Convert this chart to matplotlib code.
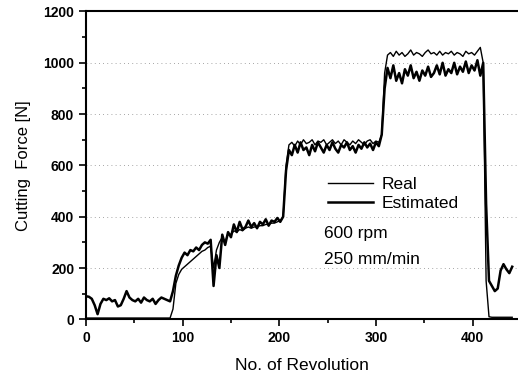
import numpy as np
import matplotlib
matplotlib.use("Agg")
import matplotlib.pyplot as plt
from matplotlib.ticker import MultipleLocator

plt.rcParams['font.family'] = ['Liberation Sans', 'DejaVu Sans']

# revolutions sampled every 3 rev
rev = np.arange(0, 442, 3)

# estimated force (thick, noisy line)
estimated = [90, 88, 80, 55, 20, 60, 80, 75, 82, 70,
             75, 50, 55, 80, 110, 85, 75, 70, 80, 65,
             85, 75, 70, 80, 60, 75, 85, 80, 75, 70,
             110, 170, 210, 240, 260, 250, 270, 265, 280, 270,
             290, 300, 295, 310, 130, 250, 200, 330, 290, 340,
             320, 370, 340, 380, 350, 360, 385, 360, 375, 355,
             380, 370, 390, 365, 385, 380, 395, 380, 400, 580,
             660, 640, 680, 650, 690, 660, 670, 640, 680, 655,
             690, 670, 650, 680, 660, 690, 665, 650, 680, 670,
             690, 660, 675, 650, 680, 665, 690, 670, 685, 660,
             690, 675, 720, 900, 980, 940, 990, 930, 960, 920,
             975, 950, 990, 940, 965, 930, 970, 950, 985, 945,
             960, 990, 955, 1000, 950, 975, 960, 1000, 955, 985,
             965, 1005, 960, 990, 970, 1010, 950, 1000, 450, 150,
             130, 110, 120, 190, 215, 195, 180, 205]

# real force (thin line)
real = [5] * 30 + [
        40, 140, 175, 195, 205, 215, 225, 235, 245, 255,
        265, 270, 280, 285, 200, 270, 300, 320, 300, 335,
        330, 345, 340, 350, 345, 355, 360, 355, 360, 360,
        365, 365, 370, 370, 375, 375, 380, 385, 400, 600,
        680, 690, 675, 695, 680, 700, 685, 690, 700, 680,
        695, 690, 700, 680, 690, 700, 685, 695, 680, 700,
        690, 680, 695, 685, 700, 690, 680, 695, 700, 685,
        695, 690, 720, 960, 1030, 1040, 1025, 1045, 1030, 1040,
        1025, 1035, 1050, 1030, 1040, 1035, 1025, 1040, 1050, 1035,
        1040, 1030, 1045, 1030, 1040, 1035, 1045, 1030, 1040, 1035,
        1025, 1045, 1035, 1040, 1030, 1045, 1060, 1000, 150, 10] + [8] * 8

fig = plt.figure(figsize=(5.18, 3.77), dpi=100)
ax = fig.add_axes([0.166, 0.153, 0.834, 0.8165])

ax.plot(rev, real, color='black', lw=1.0, label='Real')
ax.plot(rev, estimated, color='black', lw=1.8, label='Estimated')

ax.set_xlim(0, 447)
ax.set_ylim(0, 1200)
ax.xaxis.set_major_locator(MultipleLocator(100))
ax.xaxis.set_minor_locator(MultipleLocator(50))
ax.yaxis.set_major_locator(MultipleLocator(200))
ax.yaxis.set_minor_locator(MultipleLocator(100))
ax.tick_params(which='both', direction='out', width=1.2, labelsize=10)
ax.tick_params(which='major', length=5)
ax.tick_params(which='minor', length=3)
for lab in ax.get_xticklabels() + ax.get_yticklabels():
    lab.set_fontweight('bold')

ax.spines['right'].set_visible(False)
for s in ['left', 'bottom', 'top']:
    ax.spines[s].set_linewidth(1.5)

for g in [200, 400, 600, 800, 1000]:
    ax.axhline(g, color='#888888', lw=0.6, ls=(0, (1, 4)), zorder=0)

ax.set_xlabel('No. of Revolution', fontsize=12.5, labelpad=9)
ax.set_ylabel('Cutting  Force [N]', fontsize=12, labelpad=9)

ax.legend(loc='upper left', bbox_to_anchor=(0.543, 0.484), frameon=False,
          fontsize=12.5, handlelength=2.6, handletextpad=0.5,
          labelspacing=0.2, borderaxespad=0)
ax.text(0.55, 0.28, '600 rpm', transform=ax.transAxes, fontsize=12.5,
        va='center')
ax.text(0.55, 0.193, '250 mm/min', transform=ax.transAxes, fontsize=12.5,
        va='center')

fig.savefig('out.png', dpi=100)
